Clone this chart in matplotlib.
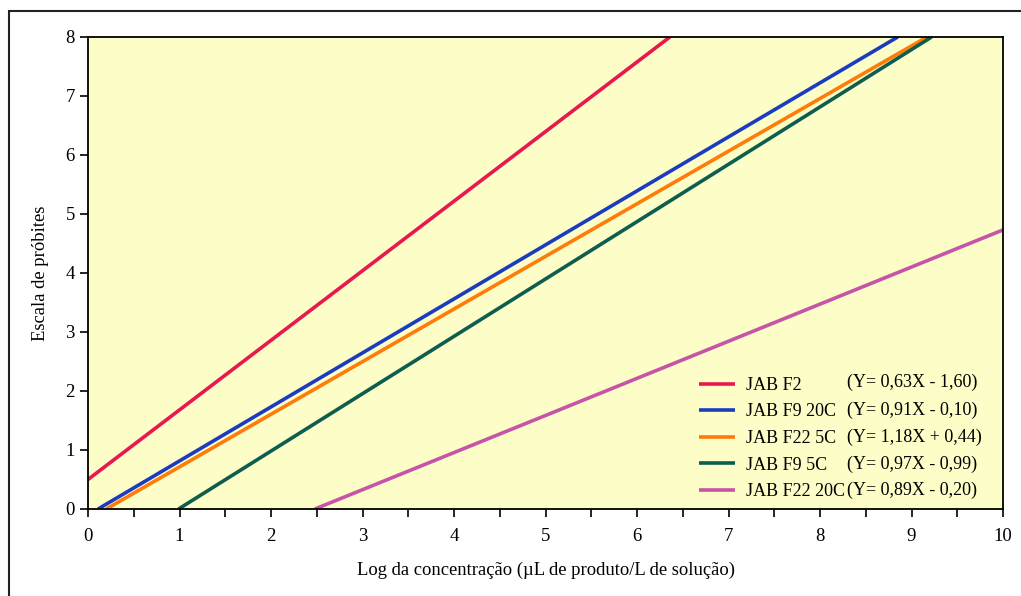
import matplotlib.pyplot as plt
from matplotlib.patches import Rectangle
from matplotlib.ticker import MultipleLocator

plt.rcParams['font.family'] = ['Liberation Serif', 'DejaVu Serif']

names = ['JAB F2', 'JAB F9 20C', 'JAB F22 5C', 'JAB F9 5C', 'JAB F22 20C']
equations = ['(Y= 0,63X - 1,60)', '(Y= 0,91X - 0,10)', '(Y= 1,18X + 0,44)',
             '(Y= 0,97X - 0,99)', '(Y= 0,89X - 0,20)']
colors = ['#e8194f', '#1c3cc0', '#ff7b0a', '#0d5e4f', '#c655a8']

# end points of each line
x_start = [0.0, 0.11, 0.20, 0.99, 2.48]
y_start = [0.5, 0.0, 0.0, 0.0, 0.0]
x_end = [6.36, 8.85, 9.17, 9.22, 10.0]
y_end = [8.0, 8.0, 8.0, 8.0, 4.73]

fig = plt.figure(figsize=(10.21, 5.96), dpi=100)
ax = fig.add_axes([0.0862, 0.146, 0.8962, 0.792])
ax.set_facecolor('#fdfdc8')

for i in range(len(names)):
    ax.plot([x_start[i], x_end[i]], [y_start[i], y_end[i]], color=colors[i],
            lw=2.6, label=names[i], solid_capstyle='butt')

ax.set_xlim(0, 10)
ax.set_ylim(0, 8)
ax.xaxis.set_major_locator(MultipleLocator(1))
ax.xaxis.set_minor_locator(MultipleLocator(0.5))
ax.yaxis.set_major_locator(MultipleLocator(1))
ax.tick_params(which='both', direction='out', labelsize=13.5, width=1.2, length=6)
ax.tick_params(axis='x', pad=8)
for sp in ax.spines.values():
    sp.set_linewidth(1.3)

ax.set_xlabel('Log da concentração (µL de produto/L de solução)', fontsize=13.4, labelpad=12)
ax.set_ylabel('Escala de próbites', fontsize=13.4, labelpad=12)

leg = ax.legend(loc='lower left', bbox_to_anchor=(0.652, -0.012), frameon=False,
                fontsize=13, handlelength=2.0, handletextpad=0.6,
                labelspacing=0.53, borderpad=0.3)

eq_y = [2.14, 1.68, 1.22, 0.76, 0.31]
for i in range(len(equations)):
    ax.text(8.3, eq_y[i], equations[i], fontsize=13, va='center', ha='left')

fig.add_artist(Rectangle((0.0088, -0.5), 1.5, 1.4815, transform=fig.transFigure,
                         fill=False, lw=1.5, edgecolor='#222222', clip_on=False))

fig.savefig('out.png', dpi=100)
